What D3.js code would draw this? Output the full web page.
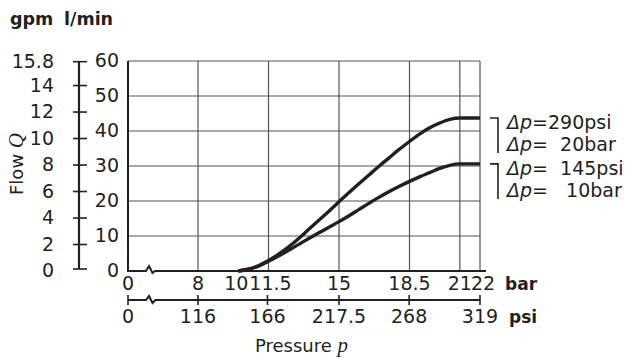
<!DOCTYPE html>
<html>
<head>
<meta charset="utf-8">
<script src="https://cdn.jsdelivr.net/npm/d3@7"></script>
<style>
  body { margin: 0; background: #fff; }
  svg { display: block; font-family: "DejaVu Sans", sans-serif; }
</style>
</head>
<body>
<div id="chart"></div>
<script>
// pressure in bar, flow in l/min
const pressureBar = [10, 10.5, 11, 11.5, 12, 12.5, 13, 13.5, 14, 14.5, 15, 15.5, 16, 16.5, 17, 17.5, 18, 18.5, 19, 19.5, 20, 20.5, 21, 22];
const flow20bar = [0, 0.5, 1.5, 3.0, 4.8, 6.9, 9.3, 11.9, 14.5, 17.1, 19.8, 22.4, 25.0, 27.5, 30.0, 32.4, 34.8, 37.0, 39.1, 40.9, 42.3, 43.3, 43.7, 43.7];
const flow10bar = [0, 0.5, 1.4, 2.8, 4.3, 5.9, 7.6, 9.3, 10.9, 12.5, 14.1, 15.8, 17.6, 19.4, 21.1, 22.7, 24.2, 25.6, 26.9, 28.1, 29.3, 30.2, 30.6, 30.6];

const barTicks = [0, 8, 10, 11.5, 15, 18.5, 21, 22];
const barGrid = [8, 11.5, 15, 18.5, 21, 22];
const psiTicks = [0, 116, 166, 217.5, 268, 319];
const lminTicks = [0, 10, 20, 30, 40, 50, 60];
const gpmTicks = [0, 2, 4, 6, 8, 10, 12, 14, 15.8];
const legendRows = [
  {y: 20, text: '=290psi'}, {y: 20, text: '=  20bar'},
  {y: 10, text: '=  145psi'}, {y: 10, text: '=   10bar'}
];

const W = 630, H = 358;
const ink = '#231f20';

const svg = d3.select('#chart').append('svg')
    .attr('width', W)
    .attr('height', H);

// scales (axis has a break between 0 and 8 bar)
const x = d3.scaleLinear().domain([0, 8, 22]).range([128, 198, 480]);
const xPsi = d3.scaleLinear().domain([0, 116, 319]).range([128, 198, 480]);
const y = d3.scaleLinear().domain([0, 60]).range([271, 61]);
const L_PER_GAL = 3.785;

// grid
svg.append('g').selectAll('line')
    .data(lminTicks.slice(1))
    .join('line')
    .attr('x1', x(0)).attr('x2', x(22))
    .attr('y1', d => y(d)).attr('y2', d => y(d))
    .attr('stroke', '#555').attr('stroke-width', 1.2);

svg.append('g').selectAll('line')
    .data(barGrid)
    .join('line')
    .attr('x1', d => x(d)).attr('x2', d => x(d))
    .attr('y1', y(0)).attr('y2', y(60))
    .attr('stroke', '#555').attr('stroke-width', 1.2);

// left frame
svg.append('line')
    .attr('x1', x(0)).attr('x2', x(0))
    .attr('y1', y(60)).attr('y2', y(0) + 1)
    .attr('stroke', ink).attr('stroke-width', 2);

// bottom (bar) axis line with break
const by = y(0);
svg.append('path')
    .attr('d', `M${x(0)},${by}H146L149,${by - 5}L152.5,${by + 2}L155,${by}H486`)
    .attr('fill', 'none').attr('stroke', ink).attr('stroke-width', 2);

svg.append('g').selectAll('text')
    .data(barTicks)
    .join('text')
    .attr('x', d => x(d) + (d === 22 ? 3 : d === 11.5 ? 2 : d === 10 ? -2 : 0))
    .attr('y', 290)
    .attr('text-anchor', 'middle')
    .attr('font-size', 19)
    .attr('fill', ink)
    .text(d => d);

svg.append('text')
    .attr('x', 505).attr('y', 290)
    .attr('font-size', 17).attr('font-weight', 'bold').attr('fill', ink)
    .text('bar');

// psi axis
const py = 300;
svg.append('path')
    .attr('d', `M${xPsi(0)},${py}H146L149,${py - 4}L152.5,${py + 3}L155.5,${py}H${xPsi(319)}`)
    .attr('fill', 'none').attr('stroke', ink).attr('stroke-width', 2);

svg.append('g').selectAll('line')
    .data(psiTicks)
    .join('line')
    .attr('x1', d => xPsi(d)).attr('x2', d => xPsi(d))
    .attr('y1', py - 5).attr('y2', py + 5)
    .attr('stroke', ink).attr('stroke-width', 1.6);

svg.append('g').selectAll('text')
    .data(psiTicks)
    .join('text')
    .attr('x', d => xPsi(d))
    .attr('y', 323)
    .attr('text-anchor', 'middle')
    .attr('font-size', 19)
    .attr('fill', ink)
    .text(d => d);

svg.append('text')
    .attr('x', 509).attr('y', 323)
    .attr('font-size', 17).attr('font-weight', 'bold').attr('fill', ink)
    .text('psi');

const xt = svg.append('text')
    .attr('x', 255).attr('y', 352)
    .attr('font-size', 18).attr('fill', ink);
xt.append('tspan').text('Pressure ');
xt.append('tspan')
    .attr('font-family', '"Liberation Serif", serif')
    .attr('font-style', 'italic').attr('font-size', 21)
    .text('p');

// l/min labels
svg.append('g').selectAll('text')
    .data(lminTicks)
    .join('text')
    .attr('x', 119)
    .attr('y', d => y(d) + 6)
    .attr('text-anchor', 'end')
    .attr('font-size', 19)
    .attr('fill', ink)
    .text(d => d);

// gpm axis
svg.append('line')
    .attr('x1', 79).attr('x2', 79)
    .attr('y1', y(15.8 * L_PER_GAL)).attr('y2', y(0) - 2)
    .attr('stroke', ink).attr('stroke-width', 2.2);

svg.append('g').selectAll('line')
    .data(gpmTicks)
    .join('line')
    .attr('x1', 73).attr('x2', 87)
    .attr('y1', d => Math.min(y(d * L_PER_GAL), y(0) - 2))
    .attr('y2', d => Math.min(y(d * L_PER_GAL), y(0) - 2))
    .attr('stroke', ink).attr('stroke-width', 1.6);

svg.append('g').selectAll('text')
    .data(gpmTicks)
    .join('text')
    .attr('x', 54)
    .attr('y', d => y(d * L_PER_GAL) + 6)
    .attr('text-anchor', 'end')
    .attr('font-size', 19)
    .attr('fill', ink)
    .text(d => d);

// header
svg.append('text').attr('x', 10).attr('y', 25)
    .attr('font-size', 17.5).attr('font-weight', 'bold').attr('fill', ink)
    .text('gpm');
svg.append('text').attr('x', 64).attr('y', 25)
    .attr('font-size', 17.5).attr('font-weight', 'bold').attr('fill', ink)
    .text('l/min');

const yt = svg.append('text')
    .attr('transform', 'translate(23,164) rotate(-90)')
    .attr('text-anchor', 'middle')
    .attr('font-size', 18).attr('fill', ink);
yt.append('tspan').text('Flow ');
yt.append('tspan')
    .attr('font-family', '"Liberation Serif", serif')
    .attr('font-style', 'italic').attr('font-size', 21)
    .text('Q');

// curves
const line = d3.line()
    .x(d => x(d[0]))
    .y(d => y(d[1]))
    .curve(d3.curveMonotoneX);

[flow20bar, flow10bar].forEach(series => {
  svg.append('path')
      .datum(pressureBar.map((p, i) => [p, series[i]]))
      .attr('d', line)
      .attr('fill', 'none')
      .attr('stroke', ink)
      .attr('stroke-width', 3.4)
      .attr('stroke-linejoin', 'round');
});

// legend brackets
[flow20bar, flow10bar].forEach(series => {
  const top = y(series[series.length - 1]);
  svg.append('path')
      .attr('d', `M490,${top}H498V${top + 35}`)
      .attr('fill', 'none').attr('stroke', ink).attr('stroke-width', 1.6);
});

legendRows.forEach((r, i) => {
  const series = r.y === 20 ? flow20bar : flow10bar;
  const base = y(series[series.length - 1]) + (i % 2 === 0 ? 11 : 33);
  const t = svg.append('text')
      .attr('x', 507).attr('y', base)
      .attr('font-size', 19).attr('fill', ink)
      .style('white-space', 'pre');
  t.append('tspan').attr('font-style', 'italic').text('Δp');
  t.append('tspan').text(r.text);
});
</script>
</body>
</html>
